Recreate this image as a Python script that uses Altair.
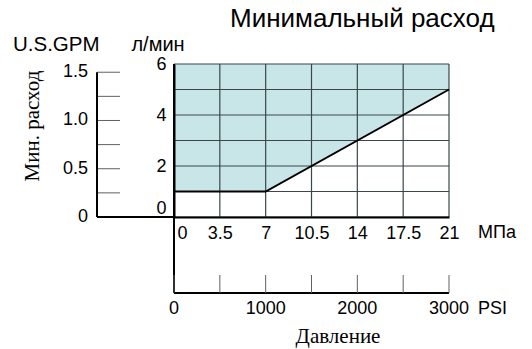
import altair as alt
import pandas as pd

# ---- data ----
pressure_mpa = [0, 7, 21]
min_flow_lpm = [1, 1, 5]
mpa_ticks = [0, 3.5, 7, 10.5, 14, 17.5, 21]
lpm_ticks = [0, 1, 2, 3, 4, 5, 6]
gpm_ticks = [0, 0.25, 0.5, 0.75, 1.0, 1.25, 1.5]
gpm_label_values = [0, 0.5, 1.0, 1.5]
gpm_label_text = ["0", "0.5", "1.0", "1.5"]
psi_ticks = [0, 500, 1000, 1500, 2000, 2500, 3000]
psi_label_values = [0, 1000, 2000, 3000]
LPM_PER_GPM = 3.785
MPA_PER_PSI = 21 / 3000

W, H = 275, 153
SANS = "Liberation Sans"
SERIF = "Liberation Serif"
FILL = "#c8e6e8"
GRID = "#3a4648"
TICK = "#606060"
NUMW = "normal"

xs = alt.Scale(domain=[0, 21], nice=False, zero=False)
ys = alt.Scale(domain=[0, 6], nice=False, zero=False)

curve = pd.DataFrame({"mpa": pressure_mpa, "lpm": min_flow_lpm})
one = pd.DataFrame({"k": [0]})

area = alt.Chart(curve).mark_area(color=FILL, opacity=1).encode(
    x=alt.X("mpa:Q", scale=xs, axis=alt.Axis(
        values=mpa_ticks, labelExpr="format(datum.value, '.3~g')", title=None, labelPadding=7,
        labelAlign={"condition": {"test": "datum.value == 0", "value": "left"}, "value": "center"},
        labelOffset={"condition": {"test": "datum.value == 0", "value": 3}, "value": 0},
        zindex=2)),
    y=alt.Y("lpm:Q", scale=ys, axis=alt.Axis(
        values=lpm_ticks, title=None, labelPadding=8,
        labelExpr="datum.value % 2 == 0 ? datum.label : ''",
        labelBaseline={"condition": {"test": "datum.value == 0", "value": "bottom"}, "value": "middle"},
        zindex=2)),
    y2=alt.datum(6),
)

vgrid = alt.Chart(pd.DataFrame({"mpa": mpa_ticks})).mark_rule(color=GRID, strokeWidth=1.2).encode(
    x=alt.X("mpa:Q", scale=xs), y=alt.datum(0), y2=alt.datum(6))
hgrid = alt.Chart(pd.DataFrame({"lpm": lpm_ticks})).mark_rule(color=GRID, strokeWidth=1.2).encode(
    y=alt.Y("lpm:Q", scale=ys), x=alt.datum(0), x2=alt.datum(21))

line = alt.Chart(curve).mark_line(color="black", strokeWidth=2).encode(
    x=alt.X("mpa:Q", scale=xs), y=alt.Y("lpm:Q", scale=ys))

# left axis line extended down to the PSI axis
left_ext = alt.Chart(one).mark_rule(color="black", strokeWidth=2).encode(
    x=alt.datum(0), y=alt.value(0), y2=alt.value(H + 76))
# PSI axis
psi_base = alt.Chart(one).mark_rule(color="black", strokeWidth=2).encode(
    x=alt.datum(0), x2=alt.datum(21), y=alt.value(H + 76))
psi_tick = alt.Chart(pd.DataFrame({"psi": psi_ticks})).transform_calculate(
    mpa=f"datum.psi * {MPA_PER_PSI}").mark_rule(color=TICK, strokeWidth=1).encode(
    x=alt.X("mpa:Q"), y=alt.value(H + 58), y2=alt.value(H + 76))
psi_lab = alt.Chart(pd.DataFrame({"psi": psi_label_values})).transform_calculate(
    mpa=f"datum.psi * {MPA_PER_PSI}").mark_text(
    font=SANS, fontSize=18, fontWeight=NUMW, color="black", baseline="middle", align="center").encode(
    x=alt.X("mpa:Q"), y=alt.value(H + 92), text=alt.Text("psi:Q", format="d"))

# GPM axis
gpm_tick = alt.Chart(pd.DataFrame({"gpm": gpm_ticks})).transform_calculate(
    lpm=f"datum.gpm * {LPM_PER_GPM}").mark_rule(color=TICK, strokeWidth=1).encode(
    y=alt.Y("lpm:Q"), x=alt.value(-77), x2=alt.value(-54))
gpm_line = alt.Chart(one).mark_rule(color="black", strokeWidth=2).encode(
    x=alt.value(-77), y=alt.datum(0), y2=alt.datum(max(gpm_ticks) * LPM_PER_GPM))
gpm_base = alt.Chart(one).mark_rule(color="black", strokeWidth=2).encode(
    x=alt.value(-77), x2=alt.value(0), y=alt.datum(0))
gpm_lab = alt.Chart(pd.DataFrame({"gpm": gpm_label_values, "txt": gpm_label_text})).transform_calculate(
    lpm=f"datum.gpm * {LPM_PER_GPM}").mark_text(
    font=SANS, fontSize=18, fontWeight=NUMW, color="black", baseline="middle", align="right").encode(
    y=alt.Y("lpm:Q"), x=alt.value(-86), text="txt:N")

def label(txt, x, y, size=18, font=SANS, align="left", angle=0):
    return alt.Chart(one).mark_text(text=txt, font=font, fontSize=size, color="black",
                                    align=align, baseline="middle", angle=angle).encode(
        x=alt.value(x), y=alt.value(y))

title = label("Минимальный расход", 56, -45, size=26)
gpm_title = label("U.S.GPM", -161, -19, size=20.5)
lpm_title = label("л/мин", -16, -19, size=20, align="center")
flow_title = label("Мин. расход", -141, 62, size=21, font=SERIF, align="center", angle=270)
mpa_unit = label("МПа", 304, 169, size=18)
psi_unit = label("PSI", 304, H + 92, size=18)
press_title = label("Давление", 164, H + 120, size=21, font=SERIF, align="center")

chart = alt.layer(
    area, vgrid, hgrid, line, left_ext, psi_base, psi_tick, psi_lab,
    gpm_tick, gpm_line, gpm_base, gpm_lab,
    title, gpm_title, lpm_title, flow_title, mpa_unit, psi_unit, press_title,
).properties(
    width=W, height=H,
    autosize=alt.AutoSizeParams(type="none"),
    padding={"left": 174, "top": 64, "right": 83, "bottom": 132},
).configure_view(stroke=None).configure_axis(
    grid=False, ticks=False, domainColor="black", domainWidth=2,
    labelFont=SANS, labelFontSize=18, labelFontWeight=NUMW, labelColor="black",
)

chart.save("out.html", embed_options={"renderer": "svg", "actions": False})
